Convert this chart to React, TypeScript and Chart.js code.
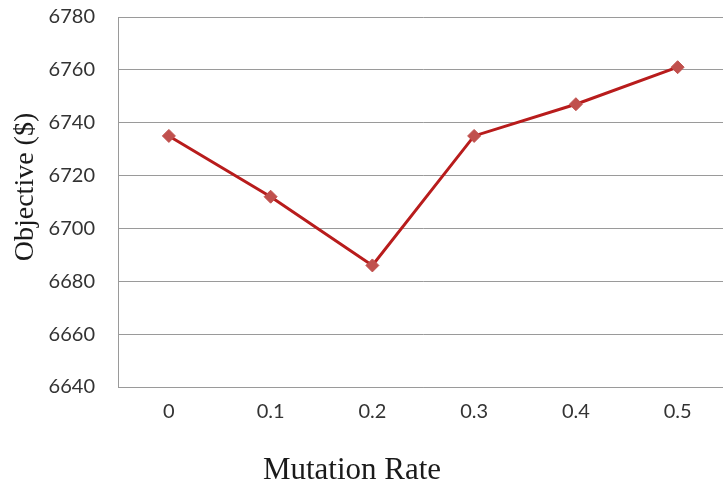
import React, { useEffect, useRef } from "react";
import { Chart, registerables } from "chart.js";

Chart.register(...registerables);

const categories: string[] = ["0", "0.1", "0.2", "0.3", "0.4", "0.5"];
const objectiveValues: number[] = [6735, 6712, 6686, 6735, 6747, 6761];
const yMin = 6640;
const yMax = 6780;
const yStep = 20;
const xTitle = "Mutation Rate";
const yTitle = "Objective ($)";

const axisTitlesPlugin = {
  id: "axisTitles",
  afterDraw(chart: any) {
    const ctx = chart.ctx as CanvasRenderingContext2D;
    ctx.save();
    ctx.fillStyle = "#1a1a1a";
    ctx.textAlign = "center";
    ctx.textBaseline = "alphabetic";
    ctx.font = "31px 'Liberation Serif'";
    ctx.fillText(xTitle, 352, 479);
    ctx.font = "28px 'Liberation Serif'";
    ctx.translate(33, 187);
    ctx.rotate(-Math.PI / 2);
    ctx.fillText(yTitle, 0, 0);
    ctx.restore();
  },
};

export default function App() {
  const ref = useRef<HTMLCanvasElement | null>(null);

  useEffect(() => {
    if (!ref.current) return;
    const chart = new Chart(ref.current, {
      type: "line",
      data: {
        labels: categories,
        datasets: [
          {
            data: objectiveValues,
            borderColor: "#b81c1c",
            borderWidth: 3,
            backgroundColor: "#c0504d",
            pointStyle: "rectRot",
            pointRadius: 6.5,
            pointBorderColor: "#c0504d",
            pointBackgroundColor: "#c0504d",
            pointBorderWidth: 1,
            tension: 0,
          },
        ],
      },
      options: {
        animation: false,
        responsive: false,
        maintainAspectRatio: false,
        layout: { padding: { top: 0, left: 0, right: 0, bottom: 0 } },
        plugins: { legend: { display: false }, tooltip: { enabled: false } },
        scales: {
          x: {
            type: "category",
            offset: true,
            grid: { display: false, drawTicks: false },
            border: { display: true, color: "#9a9a9a", width: 1 },
            ticks: {
              padding: 13,
              color: "#333333",
              font: { family: "Lato", size: 20 },
              maxRotation: 0,
            },
            afterFit: (scale: any) => {
              scale.height = 101;
              scale.paddingLeft = 0;
              scale.paddingRight = 0;
            },
          },
          y: {
            min: yMin,
            max: yMax,
            grid: { color: "#9a9a9a", lineWidth: 1, drawTicks: false },
            border: { display: true, color: "#9a9a9a", width: 1 },
            ticks: {
              stepSize: yStep,
              padding: 23,
              color: "#333333",
              font: { family: "Lato", size: 20 },
              callback: (v: any) => String(v),
            },
            afterFit: (scale: any) => {
              scale.width = 118;
              scale.paddingTop = 17;
              scale.paddingBottom = 0;
            },
          },
        },
      },
      plugins: [axisTitlesPlugin],
    });
    return () => chart.destroy();
  }, []);

  return (
    <div
      style={{
        position: "fixed",
        left: 0,
        top: 0,
        width: 723,
        height: 488,
        overflow: "hidden",
        background: "#ffffff",
      }}
    >
      <canvas ref={ref} width={736} height={488} style={{ width: 736, height: 488, display: "block" }} />
    </div>
  );
}
